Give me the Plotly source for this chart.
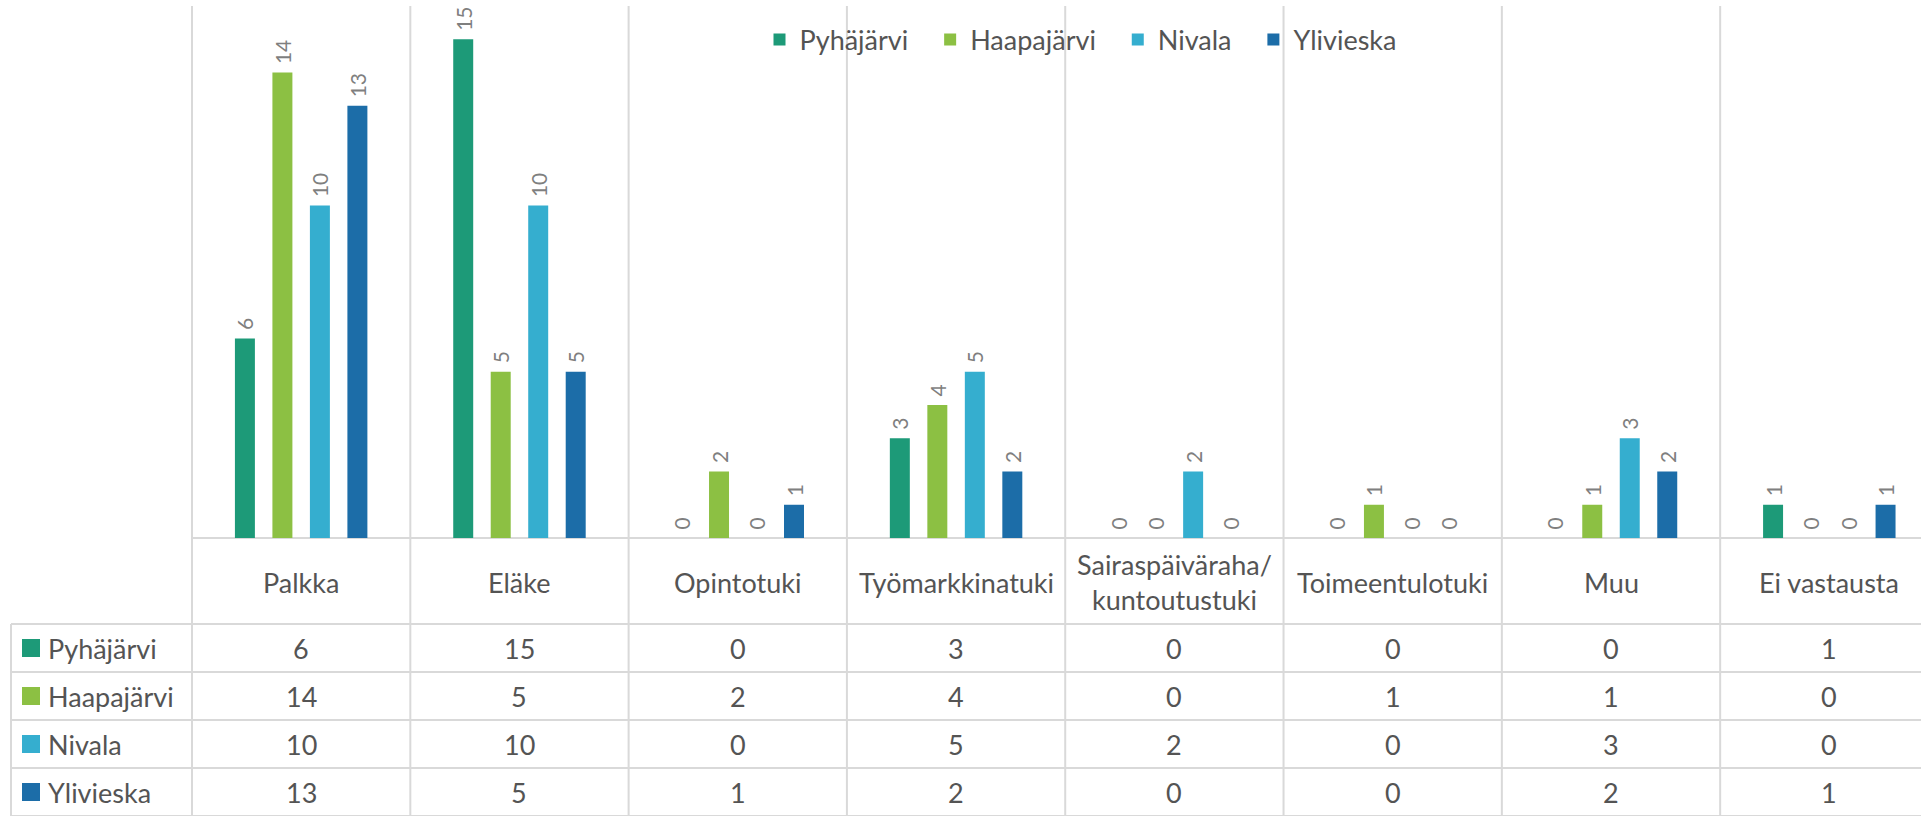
import plotly.graph_objects as go

categories = ["Palkka", "Eläke", "Opintotuki", "Työmarkkinatuki",
              "Sairaspäiväraha/kuntoutustuki", "Toimeentulotuki", "Muu", "Ei vastausta"]
category_labels = ["Palkka", "Eläke", "Opintotuki", "Työmarkkinatuki",
                   "Sairaspäiväraha/<br>kuntoutustuki", "Toimeentulotuki", "Muu", "Ei vastausta"]
series_names = ["Pyhäjärvi", "Haapajärvi", "Nivala", "Ylivieska"]
pyhajarvi = [6, 15, 0, 3, 0, 0, 0, 1]
haapajarvi = [14, 5, 2, 4, 0, 1, 1, 0]
nivala = [10, 10, 0, 5, 2, 0, 3, 0]
ylivieska = [13, 5, 1, 2, 0, 0, 2, 1]
series_values = [pyhajarvi, haapajarvi, nivala, ylivieska]
colors = ["#1d9a78", "#8cc043", "#35aecf", "#1c6da8"]

FONT = "Lato"
TXT = "#545454"
LBL = "#7f7f7f"
GRID = "#d9d9d9"

W, H = 1921, 816
L, T, B = 192, 6, 538          # plot area pixel edges
PW, PH = W - L, B - T


def px_x(px):
    return (px - L) / PW


def px_y(py):
    return (B - py) / PH


fig = go.Figure()
for i, (name, vals, col) in enumerate(zip(series_names, series_values, colors)):
    fig.add_trace(go.Bar(
        x=categories, y=vals,
        name=name + ("\u2002\u2009" if i < len(series_names) - 1 else ""),
        marker=dict(color=col, line=dict(width=0)),
        text=vals, texttemplate="\u00a0%{y}", textposition="outside",
        textangle=-90, cliponaxis=False, constraintext="none",
        outsidetextfont=dict(family=FONT, size=21, color=LBL),
    ))

shapes = []
# vertical category separators
shapes.append(dict(type="line", xref="paper", yref="paper", x0=0, x1=0,
                   y0=px_y(H), y1=1, line=dict(color=GRID, width=2), layer="below"))
for k in range(1, len(categories) + 1):
    shapes.append(dict(type="line", xref="x", yref="paper", x0=k - 0.5, x1=k - 0.5,
                       y0=px_y(H), y1=1, line=dict(color=GRID, width=2), layer="below"))
# baseline
shapes.append(dict(type="line", xref="paper", yref="paper", x0=0, x1=1,
                   y0=0, y1=0, line=dict(color=GRID, width=2), layer="below"))
# table rows
row_h = 48
table_top = 624
for r in range(len(series_names) + 1):
    yy = px_y(table_top + r * row_h)
    shapes.append(dict(type="line", xref="paper", yref="paper", x0=px_x(11), x1=1,
                       y0=yy, y1=yy, line=dict(color=GRID, width=2), layer="below"))
shapes.append(dict(type="line", xref="paper", yref="paper", x0=px_x(11), x1=px_x(11),
                   y0=px_y(table_top), y1=px_y(H), line=dict(color=GRID, width=2), layer="below"))
# legend keys in table
for r, col in enumerate(colors):
    cy = table_top + r * row_h + row_h / 2
    shapes.append(dict(type="rect", xref="paper", yref="paper",
                       x0=px_x(22), x1=px_x(40), y0=px_y(cy + 9), y1=px_y(cy - 9),
                       fillcolor=col, line=dict(width=0)))

annotations = []
# category labels
for cat, lab in zip(categories, category_labels):
    annotations.append(dict(x=cat, xref="x", y=px_y(582), yref="paper", text=lab,
                            showarrow=False, xanchor="center", yanchor="middle",
                            font=dict(family=FONT, size=27, color=TXT)))
# table
for r, (name, vals) in enumerate(zip(series_names, series_values)):
    cy = table_top + r * row_h + row_h / 2
    annotations.append(dict(x=px_x(46), xref="paper", y=px_y(cy), yref="paper", text=name,
                            showarrow=False, xanchor="left", yanchor="middle",
                            font=dict(family=FONT, size=27, color=TXT)))
    for cat, v in zip(categories, vals):
        annotations.append(dict(x=cat, xref="x", y=px_y(cy), yref="paper", text=str(v),
                                showarrow=False, xanchor="center", yanchor="middle",
                                font=dict(family=FONT, size=27, color=TXT)))

fig.update_layout(
    width=W, height=H, autosize=False,
    margin=dict(l=L, r=0, t=T, b=H - B, pad=0),
    paper_bgcolor="white", plot_bgcolor="white",
    barmode="group", bargap=0.313, bargroupgap=0.467,
    font=dict(family=FONT, color=TXT),
    showlegend=True,
    legend=dict(orientation="h", x=px_x(1081), xanchor="center", y=px_y(40), yanchor="middle",
                bgcolor="rgba(0,0,0,0)", font=dict(family=FONT, size=27, color=TXT)),
    shapes=shapes, annotations=annotations,
)
fig.update_xaxes(type="category", range=[-0.5, 7.42], showgrid=False, showticklabels=False,
                 zeroline=False, showline=False, ticks="", fixedrange=True)
fig.update_yaxes(range=[0, 16], showgrid=False, showticklabels=False, zeroline=False,
                 showline=False, ticks="", fixedrange=True)

fig.write_html("out.html", config={"displayModeBar": False},
               post_script="document.body.style.margin='0';document.body.style.overflow='hidden';")
